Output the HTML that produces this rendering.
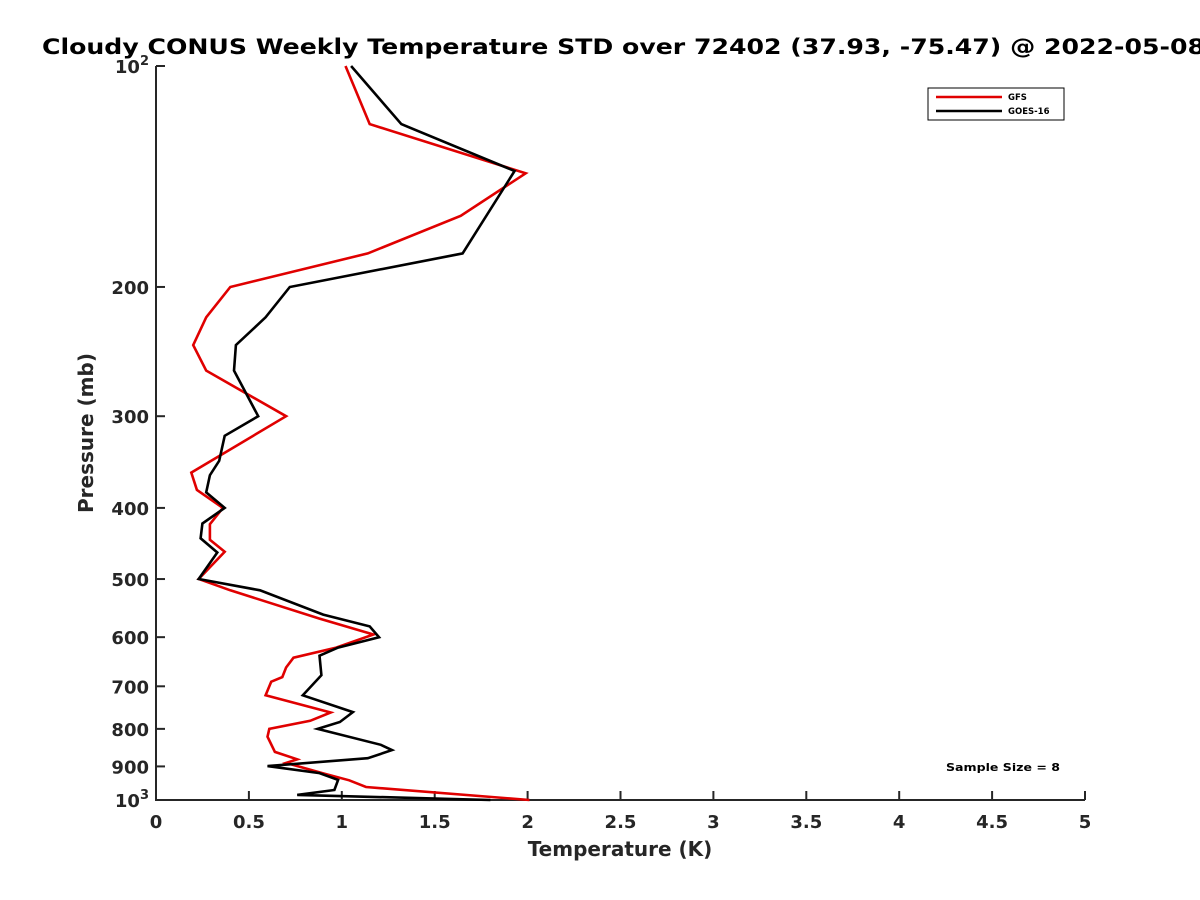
<!DOCTYPE html>
<html><head><meta charset="utf-8"><style>
body{margin:0;background:#fff;}
svg{display:block;font-family:"DejaVu Sans","Liberation Sans",sans-serif;font-weight:bold;}
</style></head><body>
<svg id="chart" width="1200" height="900" viewBox="0 0 1200 900">
<rect width="1200" height="900" fill="#fff"/>
<text x="42" y="54" font-size="21" fill="#000" textLength="1163" lengthAdjust="spacingAndGlyphs">Cloudy CONUS Weekly Temperature STD over 72402 (37.93, -75.47) @ 2022-05-08</text>
<g id="axes"></g>
<g id="series"></g>
<g>
<rect x="928" y="88" width="136" height="32" fill="#fff" stroke="#000" stroke-width="1"/>
<line x1="936" y1="97" x2="1002" y2="97" stroke="#e00000" stroke-width="2.5"/>
<text x="1008" y="100" font-size="8.5">GFS</text>
<line x1="936" y1="111" x2="1002" y2="111" stroke="#000" stroke-width="2.5"/>
<text x="1008" y="114" font-size="8.5">GOES-16</text>
</g>
<text x="946" y="771" font-size="11" textLength="114" lengthAdjust="spacingAndGlyphs">Sample Size = 8</text>
<text x="620" y="856" text-anchor="middle" font-size="20" fill="#262626">Temperature (K)</text>
<text transform="translate(93,433) rotate(-90)" text-anchor="middle" font-size="20" fill="#262626">Pressure (mb)</text>
</svg>
<script>
const xTicks=[0,0.5,1,1.5,2,2.5,3,3.5,4,4.5,5];
const yTicks=[100,200,300,400,500,600,700,800,900,1000];
const gfsP=[100,120,140,160,180,200,220,240,260,300,358,378,400,421,442,459,500,518,566,595,620,640,660,680,690,720,760,780,800,820,860,880,890,920,940,960,1000];
const gfsT=[1.02,1.15,1.99,1.64,1.14,0.40,0.27,0.20,0.27,0.70,0.19,0.22,0.36,0.29,0.29,0.37,0.23,0.40,0.88,1.17,0.97,0.74,0.70,0.68,0.62,0.59,0.94,0.83,0.61,0.60,0.64,0.76,0.70,0.90,1.04,1.13,2.01];
const goesP=[100,120,139,180,200,220,240,260,300,319,345,361,381,400,420,440,460,500,518,559,580,600,620,636,676,720,759,783,800,841,855,877,899,919,939,969,984,1000];
const goesT=[1.05,1.32,1.93,1.65,0.72,0.59,0.43,0.42,0.55,0.37,0.34,0.29,0.27,0.37,0.25,0.24,0.33,0.23,0.56,0.90,1.15,1.20,0.98,0.88,0.89,0.79,1.06,0.99,0.87,1.21,1.27,1.14,0.60,0.88,0.98,0.96,0.76,1.80];
const X0=156,X1=1085,Y0=66,Y1=800;
const xs=v=>X0+(v-0)/(5-0)*(X1-X0);
const ys=p=>Y0+(Math.log10(p)-2)*(Y1-Y0);
const NS='http://www.w3.org/2000/svg';
const axes=document.getElementById('axes'),series=document.getElementById('series');
function mk(tag,attrs,parent){const e=document.createElementNS(NS,tag);for(const k in attrs)e.setAttribute(k,attrs[k]);parent.appendChild(e);return e;}
let a=mk('path',{d:`M${X0},${Y0}V${Y1}H${X1}`,fill:'none',stroke:'#262626','stroke-width':2},axes);


xTicks.forEach(v=>{
  const x=xs(v);
  const t=mk('line',{x1:x,x2:x,y1:Y1,y2:Y1-9,stroke:'#262626','stroke-width':2},axes);
  
  
  const l=mk('text',{x:x,y:Y1+28,'text-anchor':'middle','font-size':18,fill:'#262626'},axes);
  l.textContent=String(v);
  
  
});
yTicks.forEach(p=>{
  const y=ys(p);
  const t=mk('line',{x1:X0,x2:X0+9,y1:y,y2:y,stroke:'#262626','stroke-width':2},axes);
  
  
  const l=mk('text',{x:X0-7,y:y+7,'text-anchor':'end','font-size':18,fill:'#262626'},axes);
  if(p===100||p===1000){l.innerHTML=`10<tspan dy="-8" font-size="13">${p===100?2:3}</tspan>`;}
  else l.textContent=String(p);
  
  
});
function line(P,T,color,name){
  const pts=P.map((p,i)=>xs(T[i]).toFixed(1)+','+ys(p).toFixed(1)).join(' ');
  const e=mk('polyline',{points:pts,fill:'none',stroke:color,'stroke-width':2.6,'stroke-linejoin':'miter'},series);
  
  
}
line(gfsP,gfsT,'#e00000','gfs-line');
line(goesP,goesT,'#000','goes16-line');
</script>
</body></html>
